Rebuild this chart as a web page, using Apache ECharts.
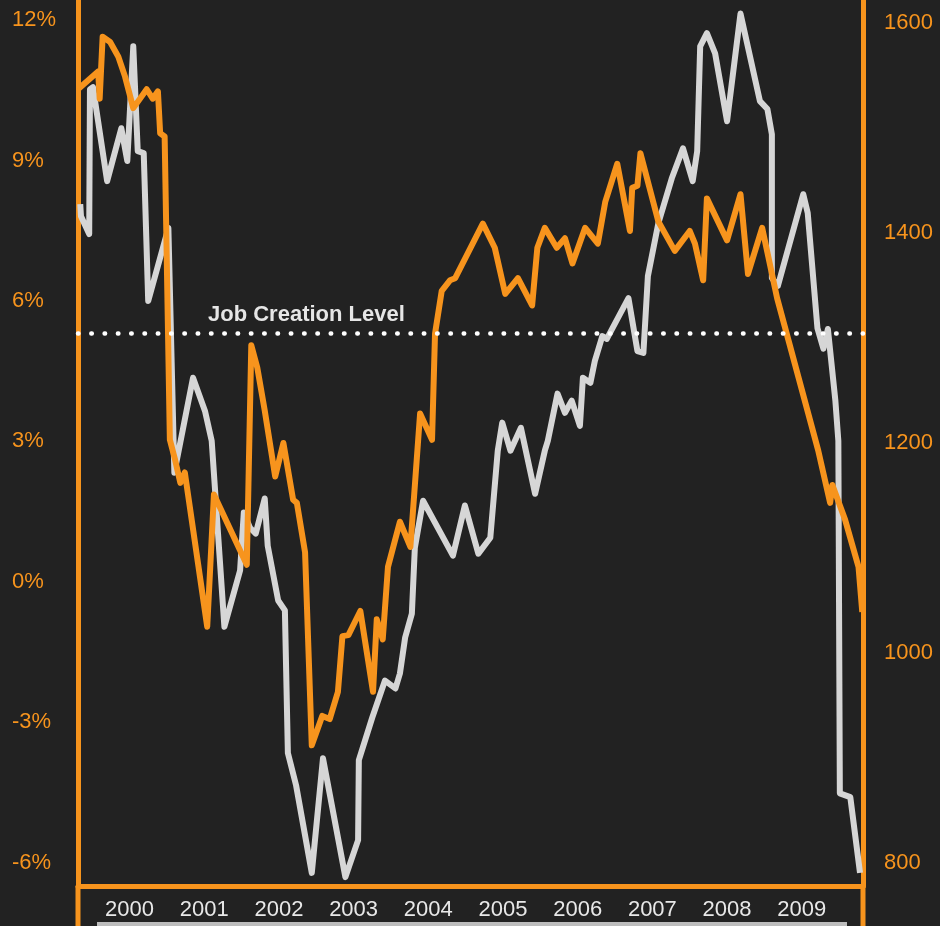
<!DOCTYPE html>
<html>
<head>
<meta charset="utf-8">
<script src="https://cdn.jsdelivr.net/npm/echarts@6/dist/echarts.min.js"></script>
<style>
  html, body { margin: 0; padding: 0; background: #222222; }
  #chart { width: 940px; height: 926px; }
</style>
</head>
<body>
<div id="chart"></div>
<script>
// year labels on the x axis
var years = [2000, 2001, 2002, 2003, 2004, 2005, 2006, 2007, 2008, 2009];
var pctTicks = [-6, -3, 0, 3, 6, 9, 12];
var indexTicks = [800, 1000, 1200, 1400, 1600];
var jobCreationLevel = 5.32;

// grey line, left axis (%)
var greyDates = [1999.84, 1999.85, 1999.96, 1999.97, 2000.01, 2000.20, 2000.39, 2000.47, 2000.55, 2000.61,
  2000.69, 2000.75, 2001.02, 2001.10, 2001.35, 2001.51, 2001.60, 2001.77, 2001.98, 2002.03,
  2002.11, 2002.19, 2002.31, 2002.35, 2002.49, 2002.58, 2002.62, 2002.73, 2002.94, 2003.09,
  2003.39, 2003.56, 2003.57, 2003.75, 2003.92, 2004.06, 2004.12, 2004.19, 2004.28, 2004.32,
  2004.43, 2004.83, 2004.99, 2005.17, 2005.33, 2005.43, 2005.49, 2005.60, 2005.74, 2005.93,
  2006.06, 2006.10, 2006.23, 2006.33, 2006.42, 2006.53, 2006.57, 2006.67, 2006.73, 2006.83,
  2006.89, 2007.18, 2007.30, 2007.38, 2007.44, 2007.58, 2007.76, 2007.91, 2008.04, 2008.10,
  2008.14, 2008.23, 2008.34, 2008.50, 2008.68, 2008.94, 2009.04, 2009.10, 2009.10, 2009.18,
  2009.52, 2009.58, 2009.71, 2009.79, 2009.85, 2009.95, 2009.99, 2010.01, 2010.15, 2010.28];
var greyValues = [8.07, 7.81, 7.43, 10.52, 10.57, 8.56, 9.69, 8.99, 11.44, 9.20,
  9.16, 6.00, 7.56, 2.33, 4.36, 3.65, 3.01, -0.96, 0.24, 1.48,
  1.16, 1.03, 1.78, 0.77, -0.40, -0.61, -3.66, -4.35, -6.22, -3.77,
  -6.31, -5.52, -3.81, -2.90, -2.11, -2.28, -1.96, -1.19, -0.68, 0.73,
  1.73, 0.56, 1.63, 0.60, 0.94, 2.80, 3.40, 2.80, 3.29, 1.88,
  2.80, 3.01, 4.02, 3.61, 3.87, 3.33, 4.36, 4.25, 4.72, 5.25,
  5.19, 6.06, 4.93, 4.89, 6.53, 7.66, 8.62, 9.26, 8.56, 9.20,
  11.44, 11.72, 11.29, 9.84, 12.14, 10.27, 10.10, 9.56, 6.49, 6.32,
  8.28, 7.88, 5.42, 4.98, 5.40, 3.87, 3.01, -4.52, -4.60, -6.22];

// orange line, right axis (index)
var orangeDates = [1999.81, 2000.08, 2000.10, 2000.14, 2000.24, 2000.35, 2000.44, 2000.55, 2000.73, 2000.81,
  2000.88, 2000.91, 2000.97, 2001.04, 2001.11, 2001.18, 2001.24, 2001.54, 2001.63, 2002.07,
  2002.13, 2002.21, 2002.31, 2002.45, 2002.56, 2002.69, 2002.74, 2002.85, 2002.94, 2003.08,
  2003.18, 2003.29, 2003.35, 2003.43, 2003.59, 2003.76, 2003.81, 2003.89, 2003.96, 2004.12,
  2004.26, 2004.39, 2004.55, 2004.59, 2004.68, 2004.79, 2004.86, 2005.23, 2005.39, 2005.53,
  2005.70, 2005.89, 2005.96, 2006.06, 2006.22, 2006.33, 2006.43, 2006.60, 2006.77, 2006.87,
  2007.03, 2007.20, 2007.23, 2007.30, 2007.34, 2007.58, 2007.80, 2008.00, 2008.07, 2008.18,
  2008.23, 2008.50, 2008.68, 2008.78, 2008.97, 2009.17, 2009.72, 2009.88, 2009.91, 2010.08,
  2010.26, 2010.31];
var orangeValues = [1537, 1554, 1528, 1587, 1582, 1568, 1549, 1519, 1537, 1528,
  1535, 1495, 1492, 1203, 1184, 1162, 1172, 1025, 1151, 1084,
  1293, 1272, 1231, 1168, 1200, 1146, 1143, 1096, 912, 940,
  937, 963, 1016, 1017, 1040, 963, 1032, 1013, 1082, 1125,
  1101, 1228, 1203, 1304, 1345, 1355, 1357, 1409, 1386, 1342,
  1357, 1331, 1386, 1405, 1386, 1395, 1371, 1405, 1390, 1430,
  1466, 1402, 1443, 1445, 1476, 1411, 1383, 1402, 1390, 1355,
  1433, 1393, 1437, 1361, 1405, 1338, 1193, 1143, 1160, 1127,
  1082, 1039];

var orange = "#F7941D";
var grey = "#D6D6D6";
var font = "Liberation Sans, Arial, sans-serif";

var greyData = [];
for (var i = 0; i < greyDates.length; i++) {
  greyData.push([greyDates[i], greyValues[i]]);
}
var orangeData = [];
for (var j = 0; j < orangeDates.length; j++) {
  orangeData.push([orangeDates[j], orangeValues[j]]);
}

var chart = echarts.init(document.getElementById("chart"));

var option = {
  backgroundColor: "#222222",
  animation: false,
  textStyle: { fontFamily: font },
  title: {
    text: "Job Creation Level",
    left: 203,
    top: 299,
    textStyle: { color: "#E6E6E6", fontSize: 22, fontWeight: "bold", fontFamily: font },
  },
  grid: { left: 78, right: 77, top: 0, bottom: 40 },
  xAxis: {
    type: "value",
    min: 1999.81,
    max: 2010.32,
    axisLine: { show: true, onZero: false, lineStyle: { color: orange, width: 5 } },
    axisTick: { show: false },
    splitLine: { show: false },
    axisLabel: {
      customValues: years.map(function (y) { return y + 0.5; }),
      formatter: function (v) { return String(Math.floor(v)); },
      color: "#E8E8E8",
      fontSize: 22,
      margin: 13,
    },
  },
  yAxis: [
    {
      type: "value",
      position: "left",
      min: -6.5,
      max: 12.43,
      axisLine: { show: true, onZero: false, lineStyle: { color: orange, width: 5 } },
      axisTick: { show: false },
      splitLine: { show: false },
      axisLabel: {
        customValues: pctTicks,
        formatter: function (v) { return v + "%"; },
        color: orange,
        fontSize: 22,
        align: "left",
        margin: 66,
      },
    },
    {
      type: "value",
      position: "right",
      min: 778,
      max: 1622,
      axisLine: { show: true, onZero: false, lineStyle: { color: orange, width: 5 } },
      axisTick: { show: false },
      splitLine: { show: false },
      axisLabel: {
        customValues: indexTicks,
        formatter: function (v) { return String(v); },
        color: orange,
        fontSize: 22,
        margin: 21,
      },
    },
  ],
  graphic: [
    { type: "line", shape: { x1: 78, y1: 886, x2: 78, y2: 926 }, style: { stroke: orange, lineWidth: 5 } },
    { type: "line", shape: { x1: 863, y1: 886, x2: 863, y2: 926 }, style: { stroke: orange, lineWidth: 5 } },
    { type: "rect", shape: { x: 97, y: 922, width: 750, height: 4 }, style: { fill: "#BDBDBD" } },
  ],
  series: [
    {
      name: "grey",
      type: "line",
      yAxisIndex: 0,
      data: greyData,
      showSymbol: false,
      symbol: "none",
      lineStyle: { color: grey, width: 6, join: "round" },
      markLine: {
        silent: true,
        symbol: ["none", "none"],
        label: { show: false },
        lineStyle: { color: "#FFFFFF", width: 4.5, type: [0.5, 12.8], cap: "round" },
        data: [{ yAxis: jobCreationLevel }],
      },
    },
    {
      name: "orange",
      type: "line",
      yAxisIndex: 1,
      data: orangeData,
      showSymbol: false,
      symbol: "none",
      lineStyle: { color: orange, width: 6, join: "round" },
    },
  ],
};

chart.setOption(option);
</script>
</body>
</html>
